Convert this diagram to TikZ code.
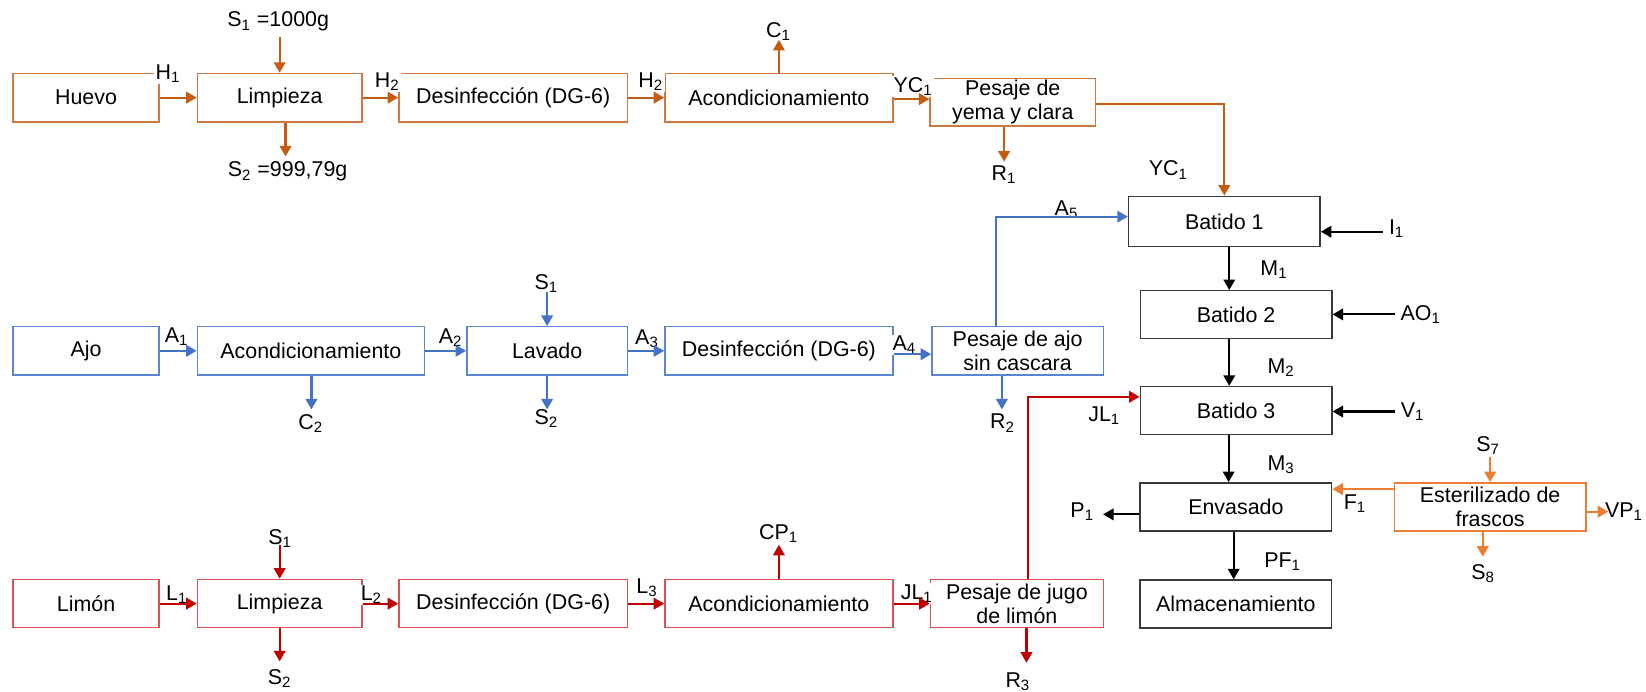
\documentclass[tikz,border=0pt]{standalone}
\usepackage{fontspec}
\setmainfont{Liberation Sans}
\usetikzlibrary{arrows.meta}
\definecolor{eggA}{HTML}{C55A11}
\definecolor{eggB}{HTML}{D07840}
\definecolor{garA}{HTML}{4472C4}
\definecolor{garB}{HTML}{5A86D0}
\definecolor{limA}{HTML}{C00000}
\definecolor{limB}{HTML}{D85050}
\definecolor{steA}{HTML}{ED7D31}
\definecolor{blkB}{HTML}{3A3A3A}
\begin{document}
\begin{tikzpicture}[x=0.5pt,y=-0.5pt,
  txt/.style={font=\fontsize{10.2}{11.4}\selectfont},
  box/.style={txt, draw, line width=0.7pt, inner sep=0pt, align=center, minimum height=23pt},
  lab/.style={txt, inner sep=0.6pt, fill=white},
  arr/.style={line width=1pt, -{Triangle[length=5pt,width=5.5pt]}},
  eggbox/.style={box, draw=eggB},
  garbox/.style={box, draw=garB},
  limbox/.style={box, draw=limB},
  blkbox/.style={box, draw=blkB},
  stebox/.style={box, draw=steA},
  eggarr/.style={arr, draw=eggA},
  gararr/.style={arr, draw=garA},
  limarr/.style={arr, draw=limA},
  blkarr/.style={arr, draw=black},
  stearr/.style={arr, draw=steA}
]
\useasboundingbox (0,0) rectangle (1568,659);

% ---------- boxes: row 1 (huevo)
\node[eggbox, minimum width=69.4pt] (huevo) at (82,93) {Huevo};
\node[eggbox, minimum width=78.35pt] (limp1) at (266.4,93) {Limpieza};
\node[eggbox, minimum width=108.9pt] (desi1) at (488.9,93) {Desinfección (DG-6)};
\node[eggbox, minimum width=108.6pt] (acon1) at (742,93) {Acondicionamiento};
\node[eggbox, minimum width=78.75pt, minimum height=22.75pt] (pyema) at (964.8,97.3) {Pesaje de\\yema y clara};

% ---------- boxes: row 2 (ajo)
\node[garbox, minimum width=69.4pt] (ajo) at (82,334.2) {Ajo};
\node[garbox, minimum width=108.1pt] (acon2) at (296.1,334.2) {Acondicionamiento};
\node[garbox, minimum width=76.5pt] (lava) at (521.2,334.2) {Lavado};
\node[garbox, minimum width=108.6pt] (desi2) at (742,334.2) {Desinfección (DG-6)};
\node[garbox, minimum width=81.65pt] (pajo) at (969.4,334.2) {Pesaje de ajo\\sin cascara};

% ---------- boxes: row 3 (limon)
\node[limbox, minimum width=69.4pt] (limon) at (82,575) {Limón};
\node[limbox, minimum width=78.35pt] (limp3) at (266.4,575) {Limpieza};
\node[limbox, minimum width=108.9pt] (desi3) at (488.9,575) {Desinfección (DG-6)};
\node[limbox, minimum width=108.6pt] (acon3) at (742,575) {Acondicionamiento};
\node[limbox, minimum width=82.35pt] (pjugo) at (968.7,575) {Pesaje de jugo\\de limón};

% ---------- boxes: right column
\node[blkbox, minimum width=91.25pt, minimum height=24pt] (bat1) at (1166.3,211) {Batido 1};
\node[blkbox, minimum width=91.25pt, minimum height=22.75pt] (bat2) at (1177.5,299.7) {Batido 2};
\node[blkbox, minimum width=91.25pt, minimum height=22.75pt] (bat3) at (1177.5,391) {Batido 3};
\node[blkbox, minimum width=91.25pt, minimum height=23pt] (enva) at (1177.3,482.9) {Envasado};
\node[blkbox, minimum width=91.25pt, minimum height=22.75pt] (alma) at (1177.3,575.3) {Almacenamiento};
\node[stebox, minimum width=91.15pt, minimum height=23pt] (este) at (1419.5,482.9) {Esterilizado de\\frascos};

% ---------- labels: row 1
\node[lab] (lH1) at (160,70) {H\textsubscript{1}};
\node[lab] (lS1a) at (265,20.6) {S\textsubscript{1} =1000g};
\node[lab] (lS2a) at (274,163.5) {S\textsubscript{2} =999,79g};
\node[lab] (lH2a) at (369,77.8) {H\textsubscript{2}};
\node[lab] (lH2b) at (620,77.8) {H\textsubscript{2}};
\node[lab] (lC1) at (741.7,30.2) {C\textsubscript{1}};
\node[lab] (lYC1a) at (869.8,82.6) {YC\textsubscript{1}};
\node[lab] (lR1) at (956.5,166.7) {R\textsubscript{1}};
\node[lab] (lYC1b) at (1113,162) {YC\textsubscript{1}};

% ---------- labels: row 2
\node[lab] (lA1) at (168.4,320.7) {A\textsubscript{1}};
\node[lab] (lA2) at (429.4,321.4) {A\textsubscript{2}};
\node[lab] (lS1b) at (520.5,270) {S\textsubscript{1}};
\node[lab] (lS2b) at (520.5,398.5) {S\textsubscript{2}};
\node[lab] (lC2) at (296,403.3) {C\textsubscript{2}};
\node[lab] (lA3) at (616.4,323) {A\textsubscript{3}};
\node[lab] (lA4) at (861.5,328.7) {A\textsubscript{4}};
\node[lab] (lR2) at (955,403) {R\textsubscript{2}};

% ---------- labels: row 3
\node[lab] (lL1) at (168.4,566.8) {L\textsubscript{1}};
\node[lab] (lS1c) at (267,512.8) {S\textsubscript{1}};
\node[lab] (lS2c) at (266.4,646.2) {S\textsubscript{2}};
\node[lab] (lL2) at (353.8,566.8) {L\textsubscript{2}};
\node[lab] (lL3) at (616.4,559.5) {L\textsubscript{3}};
\node[lab] (lCP1) at (741.7,508) {CP\textsubscript{1}};
\node[lab] (lJL1a) at (873.4,565.3) {JL\textsubscript{1}};
\node[lab] (lR3) at (969.7,649.4) {R\textsubscript{3}};

% ---------- labels: right column
\node[lab] (lA5) at (1016,200) {A\textsubscript{5}};
\node[lab] (lI1) at (1330.5,217.5) {I\textsubscript{1}};
\node[lab] (lM1) at (1213.7,257.2) {M\textsubscript{1}};
\node[lab] (lAO1) at (1353.4,300) {AO\textsubscript{1}};
\node[lab] (lM2) at (1220.4,350) {M\textsubscript{2}};
\node[lab] (lV1) at (1345.8,392.2) {V\textsubscript{1}};
\node[lab] (lJL1b) at (1052,396) {JL\textsubscript{1}};
\node[lab] (lM3) at (1220.4,443) {M\textsubscript{3}};
\node[lab] (lP1) at (1031,487.5) {P\textsubscript{1}};
\node[lab] (lF1) at (1290.8,479.5) {F\textsubscript{1}};
\node[lab] (lS7) at (1417.6,424) {S\textsubscript{7}};
\node[lab] (lVP1) at (1547,487.4) {VP\textsubscript{1}};
\node[lab] (lS8) at (1412.8,546.2) {S\textsubscript{8}};
\node[lab] (lPF1) at (1221.9,535) {PF\textsubscript{1}};

% ---------- free ends and bends
\coordinate (s1a) at (265.4,35);
\coordinate (s2a) at (272,149);
\coordinate (c1) at (741.7,38);
\coordinate (r1) at (956.5,154);
\coordinate (c2) at (296.7,390);
\coordinate (s1b) at (520.5,278);
\coordinate (s2b) at (520.5,390);
\coordinate (r2) at (954.4,390);
\coordinate (a5) at (948.9,206.4);
\coordinate (s1c) at (268,519);
\coordinate (s2c) at (266,630);
\coordinate (cp1) at (741.7,519);
\coordinate (r3) at (977.8,631.3);
\coordinate (jl) at (978.9,378);
\coordinate (colA) at (1171,0);
\coordinate (colB) at (1170.4,0);
\coordinate (colC) at (1175.2,0);
\coordinate (i1) at (1317,220.7);
\coordinate (ao1) at (1329,299.5);
\coordinate (v1) at (1329,392);
\coordinate (p1) at (1050.8,490);
\coordinate (f1) at (1300,465.9);
\coordinate (s7) at (1417.6,435);
\coordinate (s8) at (1412.5,530.3);
\coordinate (vp1) at (1532,487.4);

% ---------- connectors: row 1
\draw[eggarr] (huevo) -- (limp1);
\draw[eggarr] (limp1.north |- s1a) -- (limp1.north);
\draw[eggarr] (limp1.south -| s2a) -- (s2a);
\draw[eggarr] (limp1) -- (desi1);
\draw[eggarr] (desi1) -- (acon1);
\draw[eggarr] (acon1.north) -- (acon1.north |- c1);
\draw[eggarr] ([yshift=-0.7pt]acon1.east) -- ([yshift=-0.7pt]acon1.east -| pyema.west);
\draw[eggarr] (pyema.south -| r1) -- (r1);
\draw[eggarr] ([yshift=-1pt]pyema.east) -- ([yshift=-1pt]pyema.east -| bat1.north) -- (bat1.north);

% ---------- connectors: row 2
\draw[gararr] (ajo) -- (acon2);
\draw[gararr] (acon2.south -| c2) -- (c2);
\draw[gararr] (acon2) -- (lava);
\draw[gararr] (lava.north |- s1b) -- (lava.north);
\draw[gararr] (lava.south) -- (lava.south |- s2b);
\draw[gararr] (lava) -- (desi2);
\draw[gararr] ([yshift=-1.6pt]desi2.east) -- ([yshift=-1.6pt]desi2.east -| pajo.west);
\draw[gararr] (pajo.south -| r2) -- (r2);
\draw[gararr] (pajo.north -| a5) -- (a5) -- (a5 -| bat1.west);

% ---------- connectors: row 3
\draw[limarr] (limon) -- (limp3);
\draw[limarr] (limp3.north |- s1c) -- (limp3.north);
\draw[limarr] (limp3.south) -- (limp3.south |- s2c);
\draw[limarr] (limp3) -- (desi3);
\draw[limarr] (desi3) -- (acon3);
\draw[limarr] (acon3.north) -- (acon3.north |- cp1);
\draw[limarr] (acon3) -- (pjugo);
\draw[limarr] (pjugo.south -| r3) -- (r3);
\draw[limarr] (pjugo.north -| jl) -- (jl) -- (jl -| bat3.west);

% ---------- connectors: right column
\draw[blkarr] (bat1.south -| colA) -- (bat2.north -| colA);
\draw[blkarr] (bat2.south -| colA) -- (bat3.north -| colA);
\draw[blkarr] (bat3.south -| colB) -- (enva.north -| colB);
\draw[blkarr] (enva.south -| colC) -- (alma.north -| colC);
\draw[blkarr] (i1) -- (i1 -| bat1.east);
\draw[blkarr] (ao1) -- (ao1 -| bat2.east);
\draw[blkarr] (v1) -- (v1 -| bat3.east);
\draw[blkarr] (p1 -| enva.west) -- (p1);
\draw[stearr] (f1 -| este.west) -- (f1 -| enva.east);
\draw[stearr] (este.north |- s7) -- (este.north);
\draw[stearr] (este.south -| s8) -- (s8);
\draw[stearr] (vp1 -| este.east) -- (vp1);
\end{tikzpicture}
\end{document}
